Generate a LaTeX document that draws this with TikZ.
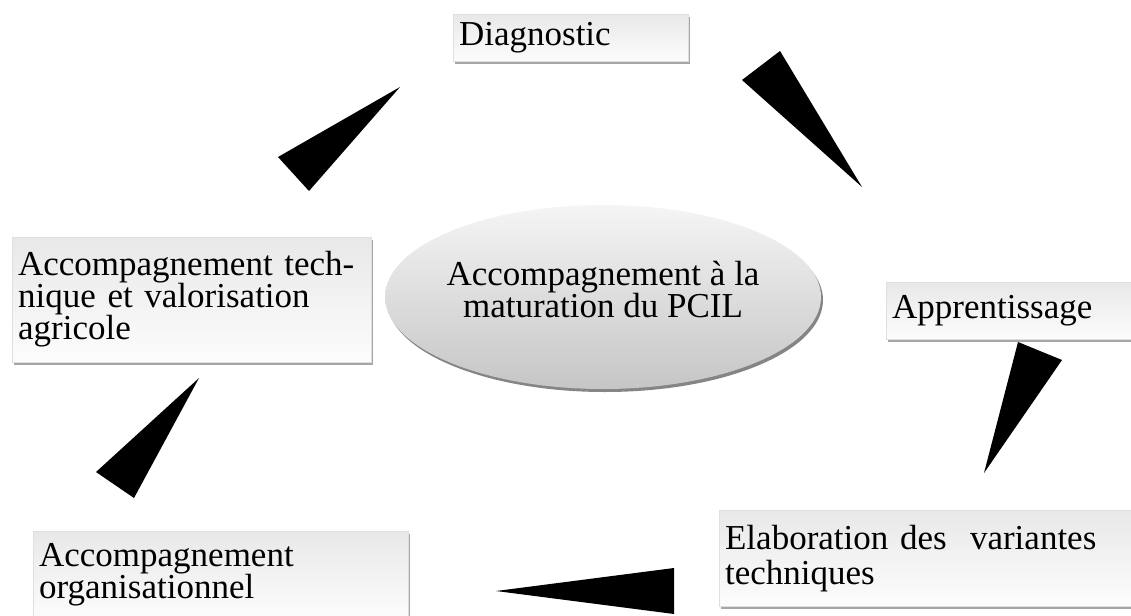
\documentclass[tikz,border=0pt]{standalone}
\usepackage{fontspec}
\setmainfont{Liberation Serif}
\usetikzlibrary{shapes.geometric,shadows}

\tikzset{
  stepbox/.style={rectangle, anchor=north west, align=left, inner xsep=6pt, inner ysep=0pt,
    draw=gray!25, very thin, top color=gray!18, bottom color=gray!2,
    drop shadow={shadow xshift=1.5pt, shadow yshift=-3pt, fill=gray, opacity=0.7},
    font=\fontsize{35}{32}\selectfont},
  hub/.style={ellipse, draw=none, top color=gray!8, bottom color=gray!45,
    minimum width=436pt, minimum height=184pt, inner sep=0pt,
    drop shadow={shadow xshift=2pt, shadow yshift=-3pt, fill=gray!80!black, opacity=0.8}},
  hubtext/.style={align=center, inner sep=0pt, font=\fontsize{35}{32}\selectfont},
  wedge/.style={fill=black}
}

\begin{document}
\begin{tikzpicture}[x=1pt, y=-1pt]
    \useasboundingbox (0,0) rectangle (1131,615);
    \clip (0,0) rectangle (1131,615);
    % Centre
    \node[hub] (hub) at (603,297) {};
    \node[hubtext] (hubtxt) at ([yshift=8pt]hub.center) {Accompagnement à la\\maturation du PCIL};
    % Boxes
    \node[stepbox, text width=223pt, minimum height=47pt] (diag) at (453,14) {Diagnostic};
    \node[stepbox, text width=233pt, minimum height=57pt] (appr) at (886,282) {Apprentissage};
    \node[stepbox, text width=400pt, minimum height=96pt, font=\fontsize{35}{35}\selectfont] (elab) at (719,510)
      {Elaboration des\ \ variantes\\techniques};
    \node[stepbox, text width=363pt, minimum height=88pt] (orga) at (33,531)
      {Accompagnement\\organisationnel};
    \node[stepbox, text width=347pt, minimum height=125pt] (tech) at (12,237)
      {Accompagnement tech-\\nique et valorisation\\agricole};
    % Wedges
    \foreach \ax/\ay/\bx/\by/\cx/\cy in {742/80/780/51/862/187,
        1018/342/1062/360/984/473,
        674/568/674/614/496/591,
        96/472/134/498/199/378,
        278/157/309/191/400/87}
      \fill[wedge] (\ax,\ay) -- (\bx,\by) -- (\cx,\cy) -- cycle;
\end{tikzpicture}
\end{document}
